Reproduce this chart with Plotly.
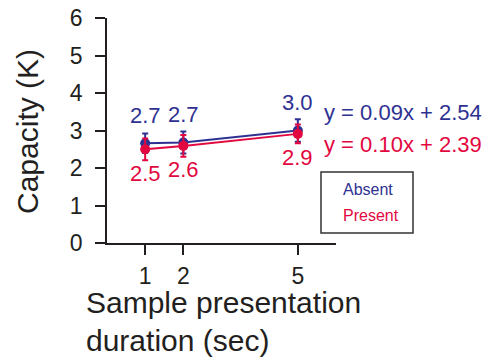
import plotly.graph_objects as go

durations = [1, 2, 5]
absent = [2.66, 2.68, 3.00]
absent_err = [0.26, 0.29, 0.30]
present = [2.50, 2.59, 2.91]
present_err = [0.29, 0.29, 0.25]
absent_labels = ["2.7", "2.7", "3.0"]
present_labels = ["2.5", "2.6", "2.9"]
eq_absent = "y = 0.09x + 2.54"
eq_present = "y = 0.10x + 2.39"
x_title_lines = ["Sample presentation", "duration (sec)"]
y_ticks = [0, 1, 2, 3, 4, 5, 6]

BLUE = "#2e3192"
RED = "#e2073f"
INK = "#231f20"
FONT = "Liberation Sans"

fig = go.Figure()
for name, vals, errs, col in [("Absent", absent, absent_err, BLUE),
                              ("Present", present, present_err, RED)]:
    fig.add_trace(go.Scatter(
        x=durations, y=vals, mode="lines+markers", name=name,
        line=dict(color=col, width=2),
        marker=dict(color=col, size=10),
        error_y=dict(type="data", array=errs, color=col, thickness=2, width=3),
        showlegend=False))

for x, y, t in zip(durations, absent, absent_labels):
    fig.add_annotation(x=x, y=y, text=t, showarrow=False, yshift=28,
                       font=dict(size=22, color=BLUE, family=FONT))
for x, y, t in zip(durations, present, present_labels):
    fig.add_annotation(x=x, y=y, text=t, showarrow=False, yshift=-24,
                       font=dict(size=22, color=RED, family=FONT))

fig.add_annotation(xref="paper", yref="paper", x=0.94, y=0.58, text=eq_absent,
                   showarrow=False, xanchor="left", yanchor="middle",
                   font=dict(size=22, color=BLUE, family=FONT))
fig.add_annotation(xref="paper", yref="paper", x=0.94, y=0.44, text=eq_present,
                   showarrow=False, xanchor="left", yanchor="middle",
                   font=dict(size=22, color=RED, family=FONT))

# legend box
fig.add_shape(type="rect", xref="paper", yref="paper",
              x0=(321 - 107) / 229, x1=(413 - 107) / 229,
              y0=(243 - 233) / 225, y1=(243 - 172) / 225,
              line=dict(color="#333333", width=1.5), fillcolor="white")
fig.add_annotation(xref="paper", yref="paper", x=(341 - 107) / 229, y=(243 - 189) / 225,
                   text="Absent", showarrow=False, xanchor="left", yanchor="middle",
                   font=dict(size=16, color=BLUE, family=FONT))
fig.add_annotation(xref="paper", yref="paper", x=(341 - 107) / 229, y=(243 - 215) / 225,
                   text="Present", showarrow=False, xanchor="left", yanchor="middle",
                   font=dict(size=16, color=RED, family=FONT))

# x-axis line extension to the left of the y axis
fig.add_shape(type="line", xref="paper", yref="y", x0=(96 - 107) / 229, x1=0,
              y0=0, y1=0, line=dict(color=INK, width=1.5))

# axis titles
fig.add_annotation(xref="paper", yref="paper", x=(27 - 107) / 229, y=(243 - 132) / 225,
                   text="Capacity (K)", textangle=-90, showarrow=False,
                   xanchor="center", yanchor="middle",
                   font=dict(size=30, color=INK, family=FONT))
for i, line in enumerate(x_title_lines):
    fig.add_annotation(xref="paper", yref="paper", x=(84 - 107) / 229,
                       y=(243 - (302 + 38 * i)) / 225,
                       text=line, showarrow=False, xanchor="left", yanchor="middle",
                       font=dict(size=30, color=INK, family=FONT))

fig.update_layout(
    width=495, height=360,
    margin=dict(l=107, r=159, t=18, b=117, autoexpand=False),
    plot_bgcolor="white", paper_bgcolor="white",
    font=dict(family=FONT, color=INK),
    xaxis=dict(range=[0, 6], tickmode="array", tickvals=durations,
               ticktext=[str(d) for d in durations],
               showgrid=False, zeroline=False, showline=True, linecolor=INK, linewidth=1.5,
               ticks="outside", ticklen=10, tickwidth=1.5, tickcolor=INK,
               ticklabelstandoff=2,
               tickfont=dict(size=23, color=INK, family=FONT)),
    yaxis=dict(range=[0, 6], tickmode="array", tickvals=y_ticks,
               ticktext=[str(v) for v in y_ticks],
               showgrid=False, zeroline=False, showline=True, linecolor=INK, linewidth=1.5,
               ticks="outside", ticklen=10, tickwidth=1.5, tickcolor=INK,
               ticklabelstandoff=8,
               tickfont=dict(size=23, color=INK, family=FONT)),
)

fig.write_html("out.html", config={"displayModeBar": False},
               post_script="document.body.style.margin='0';")
